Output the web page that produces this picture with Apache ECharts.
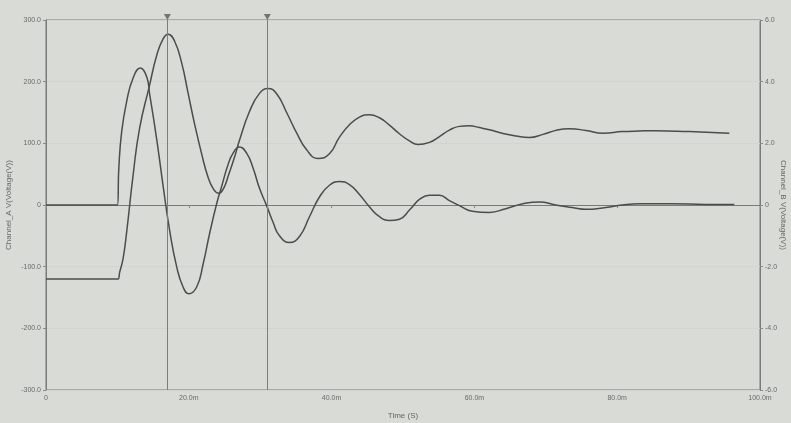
<!DOCTYPE html>
<html><head><meta charset="utf-8">
<script src="https://cdn.jsdelivr.net/npm/echarts@6/dist/echarts.min.js"></script>
<style>html,body{margin:0;padding:0;background:#d9dbd7}#c{width:791px;height:423px}</style>
</head><body><div id="c"></div>
<script>
// Channel A (left axis, V) – time in ms
const timeA = [0,10.0,10.2,10.6,11.3,12.2,13.2,14.1,14.5,15.5,16.4,17.3,18.3,19.2,20.0,21.1,22.0,22.9,23.9,24.6,25.4,26.2,27.1,28.1,29.0,29.9,30.9,31.8,32.7,34.1,35.5,36.9,38.3,39.7,41.1,42.5,43.9,45.3,46.7,48.1,49.5,51.0,52.3,53.7,55.1,56.5,57.9,59.7,62.1,64.4,66.8,69.1,71.4,73.7,75.6,78.4,80.7,83.1,87.7,92.4,96.4];
const channelA = [0,0,60,119,168,206,222,208,181,107,31,-40,-100,-133,-144,-133,-96,-47,2,30,62,84,94,84,60,27,-1,-28,-50,-61,-51,-19,13,32,38,33,17,-3,-19,-25,-23,-7,9,16,16,7,-1,-10,-12,-6,2,5,0,-4,-7,-4,0,2,2,1,1];
// Channel B (right axis, V)
const timeB = [0,10.1,10.3,10.8,11.3,12.2,13.1,14.5,15.5,16.4,17.1,18.0,19.0,19.9,20.8,21.8,22.7,23.5,24.2,24.9,25.6,26.4,27.1,28.5,29.9,31.1,32.3,33.7,35.1,36.5,38.1,39.7,41.1,42.5,43.9,45.3,46.7,48.1,49.5,50.9,52.1,53.7,55.1,56.5,57.9,59.3,60.7,62.1,64.0,65.8,67.7,69.6,71.4,73.3,75.6,78.0,80.7,83.1,85.4,90.1,95.7];
const channelB = [-2.4,-2.4,-2.2,-1.73,-0.87,0.97,2.48,3.88,4.85,5.39,5.54,5.32,4.61,3.63,2.64,1.66,0.9,0.5,0.38,0.55,1.0,1.55,2.1,3.03,3.62,3.78,3.61,3.0,2.34,1.79,1.51,1.66,2.2,2.6,2.85,2.93,2.83,2.59,2.31,2.08,1.96,2.03,2.22,2.43,2.55,2.57,2.51,2.44,2.32,2.24,2.19,2.29,2.42,2.47,2.42,2.33,2.38,2.4,2.41,2.38,2.33];
const cursorTimes = [17.0, 31.0];
const xTickValues = [0,20,40,60,80,100];
const leftTickValues = [-300,-200,-100,0,100,200,300];
const rightTickValues = [-6,-4,-2,0,2,4,6];

const zip = (t, v) => t.map((x, i) => [x, v[i]]);
const fmt = (v, suffix) => v === 0 ? '0' : v.toFixed(1) + suffix;
const labelStyle = {color:'#6a6a6a', fontSize:7, fontFamily:'Liberation Sans'};
const nameStyle = {color:'#666', fontSize:8, fontFamily:'Liberation Sans'};

const chart = echarts.init(document.getElementById('c'), null, {renderer:'canvas'});
chart.setOption({
  animation:false,
  backgroundColor:'#d9dbd7',
  grid:{left:46, right:31, top:20, bottom:33, containLabel:false, outerBoundsMode:'none',
    show:true, borderColor:'#7a7a7a', borderWidth:1, backgroundColor:'transparent'},
  xAxis:{type:'value', min:xTickValues[0], max:xTickValues[xTickValues.length-1], interval:20,
    name:'Time (S)', nameLocation:'middle', nameGap:22, nameMoveOverlap:false, nameTextStyle:nameStyle,
    axisLine:{lineStyle:{color:'#7a7a7a'}}, axisTick:{length:3, lineStyle:{color:'#888'}},
    axisLabel:Object.assign({formatter:v=>fmt(v,'m'), margin:5}, labelStyle),
    splitLine:{show:false}},
  yAxis:[
    {type:'value', min:leftTickValues[0], max:leftTickValues[6], interval:100, position:'left',
      name:'Channel_A V(Voltage(V))', nameLocation:'middle', nameGap:33, nameMoveOverlap:false, nameRotate:90, nameTextStyle:nameStyle,
      axisLine:{show:true, lineStyle:{color:'#7a7a7a'}}, axisTick:{show:true, length:3, lineStyle:{color:'#888'}},
      axisLabel:Object.assign({formatter:v=>fmt(v,''), margin:5}, labelStyle),
      splitLine:{show:true, lineStyle:{color:'#d2d4d0', width:1}}},
    {type:'value', min:rightTickValues[0], max:rightTickValues[6], interval:2, position:'right',
      name:'Channel_B V(Voltage(V))', nameLocation:'middle', nameGap:19, nameMoveOverlap:false, nameRotate:-90, nameTextStyle:nameStyle,
      axisLine:{show:true, lineStyle:{color:'#7a7a7a'}}, axisTick:{show:true, length:3, lineStyle:{color:'#888'}},
      axisLabel:Object.assign({formatter:v=>fmt(v,''), margin:5}, labelStyle),
      splitLine:{show:false}}
  ],
  series:[
    {name:'Channel_A', type:'line', yAxisIndex:0, data:zip(timeA, channelA), showSymbol:false, smooth:0.5,
      lineStyle:{color:'#4c4c4c', width:1.5}, z:3,
      markLine:{silent:true, symbol:['none','none'], label:{show:false},
        lineStyle:{color:'#7c7c7c', width:1, type:'solid'},
        data:cursorTimes.map(t=>({xAxis:t}))}},
    {name:'Channel_B', type:'line', yAxisIndex:1, data:zip(timeB, channelB), showSymbol:false, smooth:0.5,
      lineStyle:{color:'#4c4c4c', width:1.5}, z:3},
    {name:'cursor', type:'scatter', yAxisIndex:0, data:cursorTimes.map(t=>[t, leftTickValues[6]]),
      symbol:'path://M0,0 L10,0 L5,9 Z', symbolSize:[7,6], symbolOffset:[0,-3], clip:false,
      itemStyle:{color:'#5a5a5a'}, silent:true, z:5}
  ]
});
</script></body></html>
